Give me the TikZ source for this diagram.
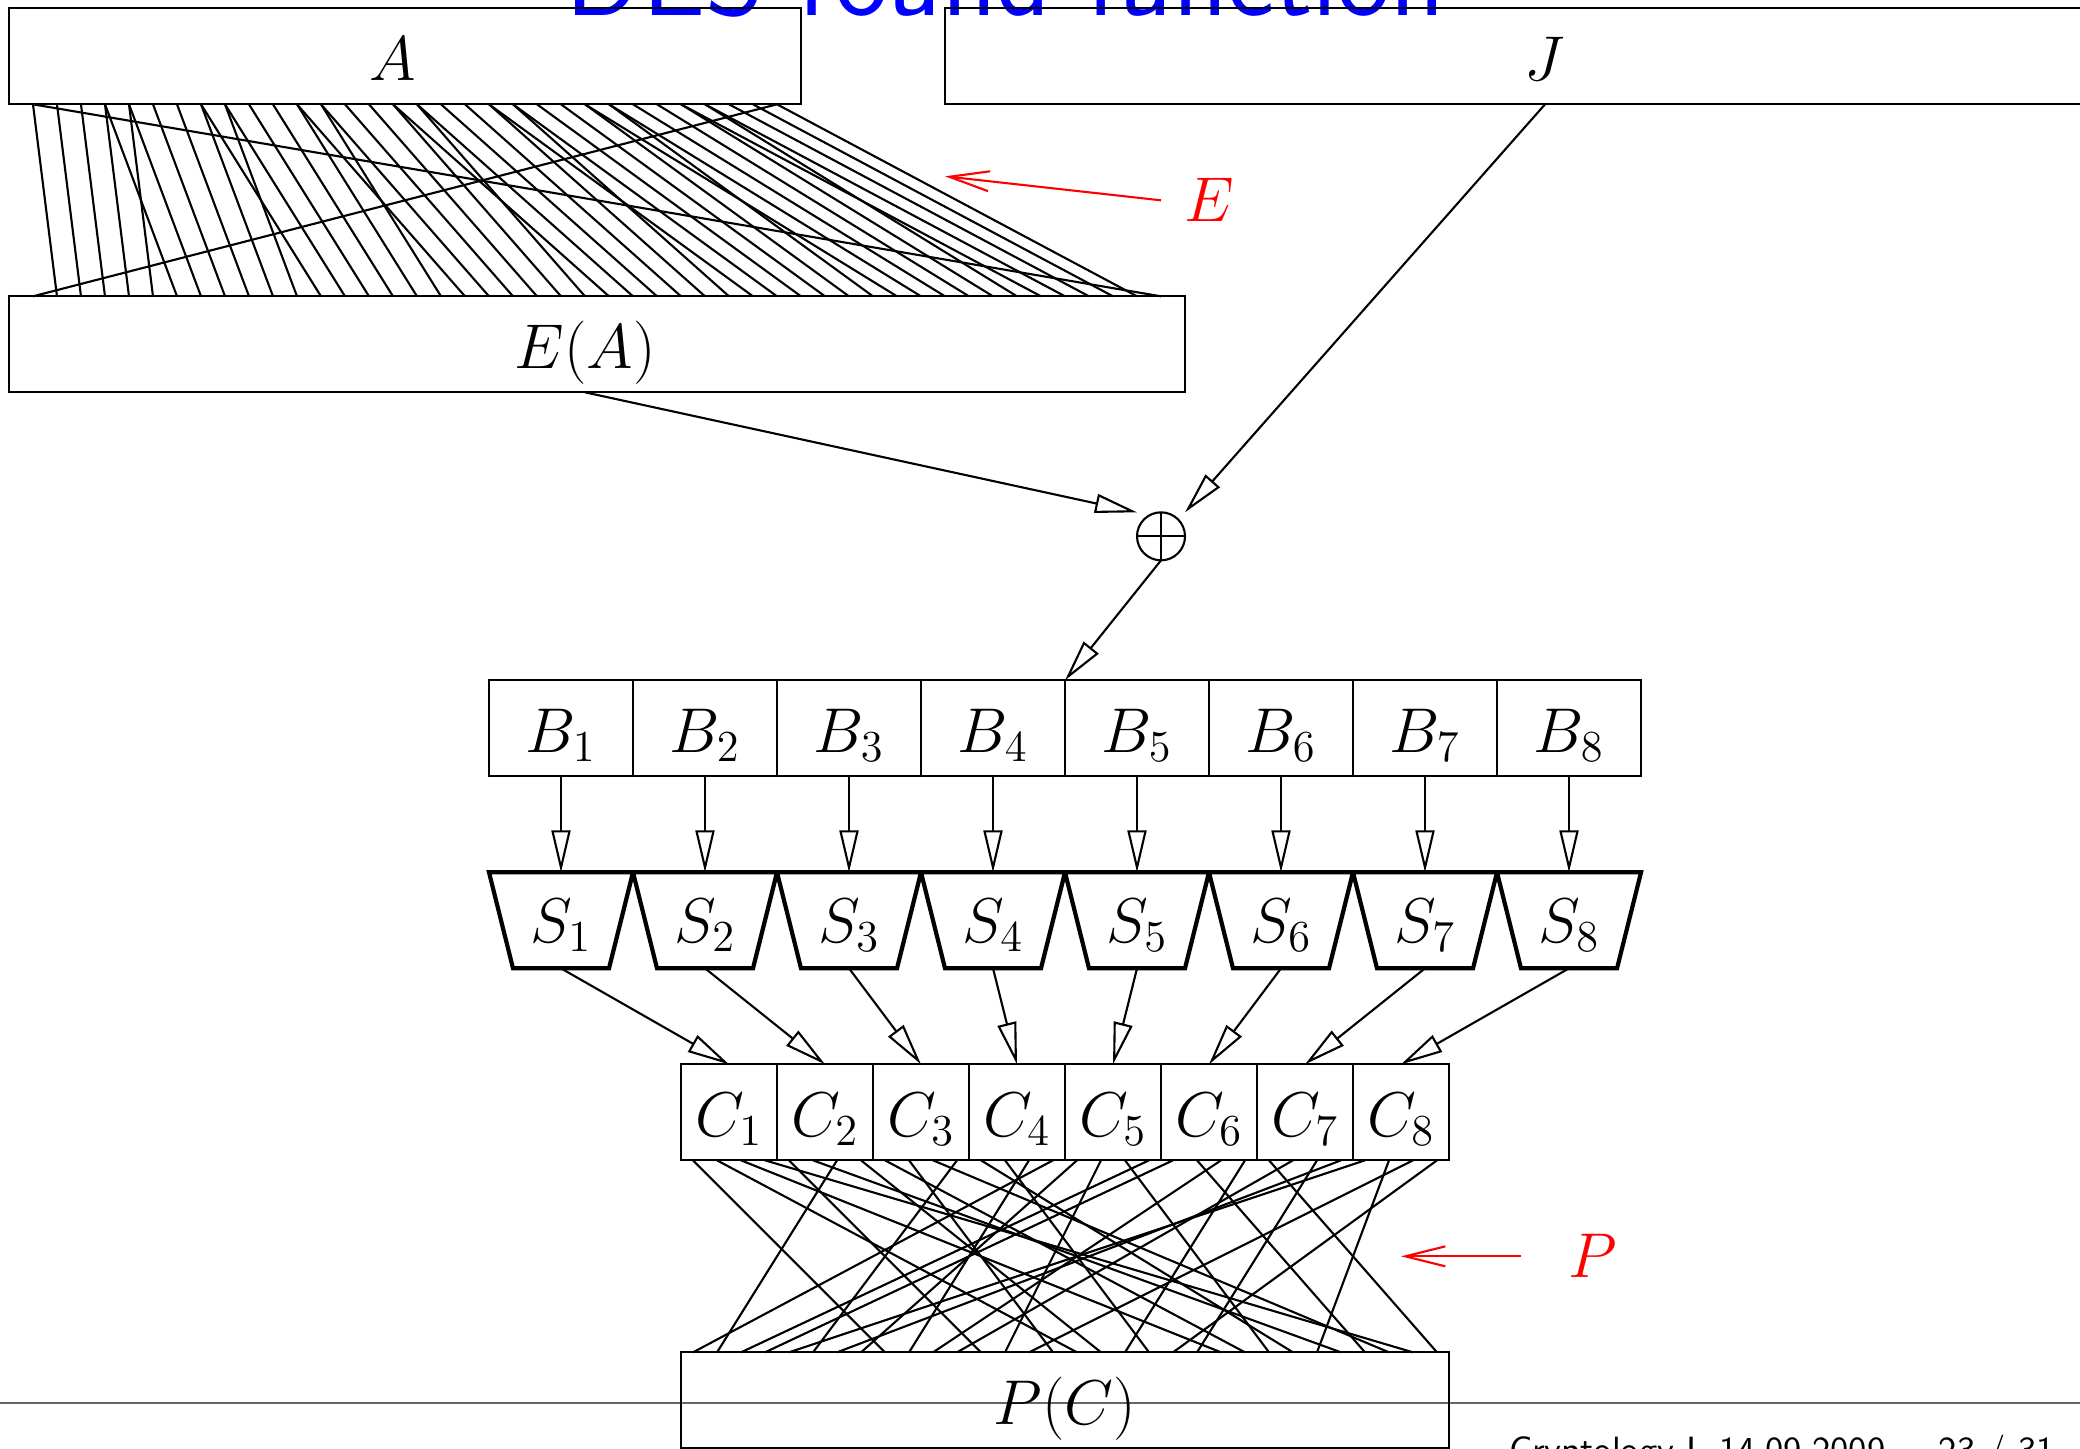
\RequirePackage{fix-cm}
\documentclass[tikz,border=0pt]{standalone}
\usetikzlibrary{arrows.meta,calc}
\newcommand\mfont{\fontsize{18}{21}\selectfont}
\begin{document}
\begin{tikzpicture}[x=2.4mm,y=-2.4mm,line width=0.6pt,
  cell/.style={draw,rectangle,inner sep=0pt,outer sep=0pt,minimum height=9.6mm,
    text height=4.8mm,text depth=0pt,font=\mfont},
  sbx/.style={rectangle,inner sep=0pt,outer sep=0pt,minimum width=14.4mm,minimum height=9.6mm,
    text height=4.4mm,text depth=0pt,font=\mfont},
  sline/.style={line width=1.2pt,line join=miter},
  tri/.style={-{Triangle[open,length=4.2mm,width=1.9mm]}},
  barb/.style={red,-{Straight Barb[length=4mm,width=2mm]}}]
\useasboundingbox (-0.375,-0.34583) rectangle (86.29167,59.9875);
% title and footer
\node[font=\fontsize{32}{34}\selectfont\sffamily,text=blue,anchor=base,inner sep=0pt] (title) at (41.52,0.28) {DES round function};
\draw[black!60,line width=0.6pt] (-0.375,58.11) -- (86.3,58.11);
\node[font=\fontsize{10.4}{12}\selectfont\sffamily,anchor=base west,inner sep=0pt] (foot) at (62.46,60.57) {Cryptology I, 14.09.2009};
\node[font=\fontsize{10.4}{12}\selectfont\sffamily,anchor=base west,inner sep=0pt] (page) at (80.37,60.57) {23 / 31};
% boxes
\node[cell,minimum width=79.2mm] (A) at (16.5,2) {\hspace*{-2.4mm}$A$};
\node[cell,minimum width=120mm] (J) at (64,2) {$J$};
\node[cell,minimum width=117.6mm] (EA) at (24.5,14) {\hspace*{-2.4mm}$E(A)$};
\node[circle,draw,minimum size=4.8mm,inner sep=0pt,outer sep=0pt] (xor) at (48,22) {};
\draw (xor.north) -- (xor.south) (xor.west) -- (xor.east);
\foreach \k in {1,...,8}{
  \node[cell,minimum width=14.4mm] (B\k) at ({17+6*\k},30) {$B_{\k}$};
  \node[sbx] (S\k) at ({17+6*\k},38) {$S_{\k}$};
  \draw[sline] (S\k.north west) -- (S\k.north east) -- ($(S\k.south east)+(-1,0)$) -- ($(S\k.south west)+(1,0)$) -- cycle;
  \node[cell,minimum width=9.6mm] (C\k) at ({26+4*\k},46) {$C_{\k}$};
}
\node[cell,minimum width=76.8mm] (PC) at (44,58) {$P(C)$};
% expansion E
\foreach \i in {1,...,32} \coordinate (a\i) at ($(A.south west)+(\i,0)$);
\foreach \j in {1,...,48} \coordinate (e\j) at ($(EA.north west)+(\j,0)$);
\foreach \s [count=\j] in {32,1,2,3,4,5,4,5,6,7,8,9,8,9,10,11,12,13,12,13,14,15,16,17,16,17,18,19,20,21,20,21,22,23,24,25,24,25,26,27,28,29,28,29,30,31,32,1}
  \draw (a\s) -- (e\j);
% permutation P
\foreach \i in {1,...,32} \coordinate (c\i) at ($(C1.south west)+(\i-0.5,0)$);
\foreach \j in {1,...,32} \coordinate (p\j) at ($(PC.north west)+(\j-0.5,0)$);
\foreach \s [count=\j] in {16,7,20,21,29,12,28,17,1,15,23,26,5,18,31,10,2,8,24,14,32,27,3,9,19,13,30,6,22,11,4,25}
  \draw (c\s) -- (p\j);
% arrows into and out of xor
\coordinate (eaout) at (24,16);
\coordinate (xe) at (47,21);
\coordinate (xj) at (49,21);
\draw[tri] (eaout) -- (xe);
\draw[tri] (J.south) -- (xj);
\draw[tri] (xor.south) -- (B4.north east);
\foreach \k in {1,...,8}{
  \draw[tri] (B\k.south) -- (S\k.north);
  \draw[tri] (S\k.south) -- (C\k.north);
}
% red annotations
\coordinate (es) at (48,8);
\coordinate (et) at (39,7);
\node[red,font=\mfont] (El) at (50,8) {$E$};
\draw[barb] (es) -- (et);
\coordinate (ps) at (63,52);
\coordinate (pt) at (58,52);
\node[red,font=\mfont] (Pl) at (66,52) {$P$};
\draw[barb] (ps) -- (pt);
\end{tikzpicture}
\end{document}
